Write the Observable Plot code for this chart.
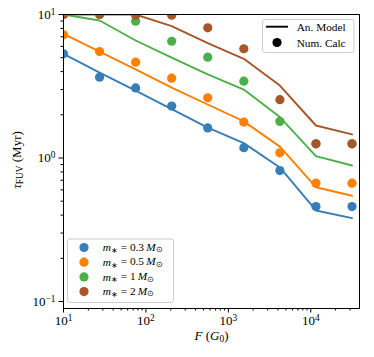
<!DOCTYPE html>
<html><head><meta charset="utf-8">
<script src="https://cdn.jsdelivr.net/npm/d3@7"></script>
<script src="https://cdn.jsdelivr.net/npm/@observablehq/plot@0.6"></script>
<style>
html,body{margin:0;padding:0;background:#fff}
#chart svg{font-family:"Liberation Serif",serif;display:block}
</style>
</head><body><div id="chart"></div>
<script>
// FUV flux values (G0)
const flux = [10, 27.4, 75.0, 205.4, 562.3, 1539.9, 4217, 11548, 31623];
const masses = ["0.3", "0.5", "1", "2"];
const colors = ["#377eb8", "#ff7f00", "#4daf4a", "#a65628"];
// Analytic model (lines), Myr
const model03 = [5.32, 3.94, 2.95, 2.19, 1.63, 1.27, 0.859, 0.431, 0.381];
const model05 = [7.34, 5.52, 4.14, 3.09, 2.36, 1.80, 1.20, 0.626, 0.546];
const model1  = [10, 9.08, 6.59, 5.0, 3.82, 3.0, 1.93, 1.03, 0.887];
const model2  = [10, 10, 10, 8.29, 6.31, 4.91, 3.2, 1.685, 1.46];
// Numerical calculation (dots), Myr
const calc03 = [5.32, 3.66, 3.08, 2.30, 1.62, 1.18, 0.818, 0.459, 0.459];
const calc05 = [7.22, 5.52, 4.65, 3.60, 2.63, 1.78, 1.087, 0.668, 0.668];
const calc1  = [10, 10, 8.98, 6.51, 5.04, 3.43, 1.80, 1.256, 1.256];
const calc2  = [10, 10, 9.9, 9.9, 8.08, 5.77, 2.55, 1.256, 1.256];
// ticks
const xMajor = [10, 100, 1000, 10000];
const xMinor = [20,30,40,50,60,70,80,90,200,300,400,500,600,700,800,900,2000,3000,4000,5000,6000,7000,8000,9000,20000,30000];
const yMajor = [0.1, 1, 10];
const yMinor = [0.2,0.3,0.4,0.5,0.6,0.7,0.8,0.9,2,3,4,5,6,7,8,9];

const modelSeries = [model03, model05, model1, model2];
const calcSeries = [calc03, calc05, calc1, calc2];
const modelRows = masses.flatMap((m, i) => flux.map((f, j) => ({m, F: f, tau: modelSeries[i][j]})));
const calcRows = masses.flatMap((m, i) => flux.map((f, j) => ({m, F: f, tau: calcSeries[i][j]})));

const expFmt = d => { const k = Math.round(Math.log10(d)); return "10^" + (k < 0 ? "\u2212" + (-k) : k); };

const chart = Plot.plot({
  width: 374, height: 357,
  marginLeft: 63, marginRight: 15, marginTop: 14, marginBottom: 49,
  style: {fontFamily: "Liberation Serif, serif", fontSize: "13px", background: "white", color: "black"},
  x: {type: "log", domain: [10, 39000]},
  y: {type: "log", domain: [0.0894, 10]},
  color: {domain: masses, range: colors},
  marks: [
    Plot.dot(calcRows, {x: "F", y: "tau", fill: "m", r: 4.6, clip: true}),
    Plot.line(modelRows, {x: "F", y: "tau", z: "m", stroke: "m", strokeWidth: 1.9, clip: true}),
    Plot.frame({stroke: "black", strokeWidth: 1}),
    Plot.axisX(xMajor, {tickSize: 4.5, tickPadding: 2.5, tickFormat: expFmt, label: null, fontSize: 13}),
    Plot.axisX(xMinor, {tickSize: 2.5, tickFormat: () => "", label: null}),
    Plot.axisY(yMajor, {tickSize: 4.5, tickPadding: 3.5, tickFormat: expFmt, label: null, fontSize: 13}),
    Plot.axisY(yMinor, {tickSize: 2.5, tickFormat: () => "", label: null})
  ]
});
document.getElementById("chart").append(chart);

const svg = d3.select(chart);
// superscripts for tick labels
svg.selectAll("text").each(function() {
  const t = this.textContent;
  const m = t.match(/^10\^(.+)$/);
  if (m) {
    const el = d3.select(this);
    el.text(null);
    el.append("tspan").text("10");
    el.append("tspan").attr("dy", "-0.42em").attr("font-size", "0.72em").text(m[1]);
  }
});

const fg = svg.append("g").attr("font-family", "Liberation Serif, serif").attr("fill", "black").attr("text-anchor", "start");
// x label
const xl = fg.append("text").attr("x", 211.5).attr("y", 339.5).attr("text-anchor", "middle").attr("font-size", 13);
xl.append("tspan").attr("font-style", "italic").text("F");
xl.append("tspan").text("\u00a0(");
xl.append("tspan").attr("font-style", "italic").text("G");
xl.append("tspan").attr("font-size", "0.72em").attr("dy", "0.25em").text("0");
xl.append("tspan").attr("dy", "-0.18em").text(")");
// y label
const yl = fg.append("text").attr("transform", "translate(21,160) rotate(-90)").attr("text-anchor", "middle").attr("font-size", 13);
yl.append("tspan").attr("font-style", "italic").text("\u03c4");
yl.append("tspan").attr("font-size", "0.72em").attr("dy", "0.25em").text("FUV");
yl.append("tspan").attr("dy", "-0.18em").text("\u00a0(Myr)");

// legend: line styles
const lg1 = fg.append("g");
lg1.append("rect").attr("x", 262.5).attr("y", 19.5).attr("width", 91.5).attr("height", 33).attr("rx", 2.5)
  .attr("fill", "white").attr("fill-opacity", 0.8).attr("stroke", "#cccccc").attr("stroke-width", 1);
lg1.append("line").attr("x1", 266).attr("x2", 288).attr("y1", 26.7).attr("y2", 26.7).attr("stroke", "black").attr("stroke-width", 1.9);
lg1.append("circle").attr("cx", 277).attr("cy", 42.5).attr("r", 4.6).attr("fill", "black");
lg1.append("text").attr("x", 296.7).attr("y", 30.6).attr("font-size", 11.3).text("An. Model");
lg1.append("text").attr("x", 296.7).attr("y", 46.5).attr("font-size", 11.3).text("Num. Calc");

// legend: masses
const lg2 = fg.append("g");
lg2.append("rect").attr("x", 67.5).attr("y", 239).attr("width", 106).attr("height", 63.5).attr("rx", 2.5)
  .attr("fill", "white").attr("fill-opacity", 0.8).attr("stroke", "#cccccc").attr("stroke-width", 1);
masses.forEach((m, i) => {
  const y = 247.5 + i * 14.7;
  lg2.append("circle").attr("cx", 84).attr("cy", y).attr("r", 4.6).attr("fill", colors[i]);
  const t = lg2.append("text").attr("x", 102.7).attr("y", y + 3.8).attr("font-size", 11.3);
  t.append("tspan").attr("font-style", "italic").text("m");
  t.append("tspan").attr("font-size", "0.7em").attr("dy", "0.2em").text("\u2217");
  t.append("tspan").attr("dy", "-0.2em").text("\u00a0=\u00a0" + m + "\u2009");
  t.append("tspan").attr("font-style", "italic").text("M");
  t.append("tspan").attr("font-size", "0.7em").attr("dy", "0.2em").text("\u2299");
});
</script>
</body></html>
